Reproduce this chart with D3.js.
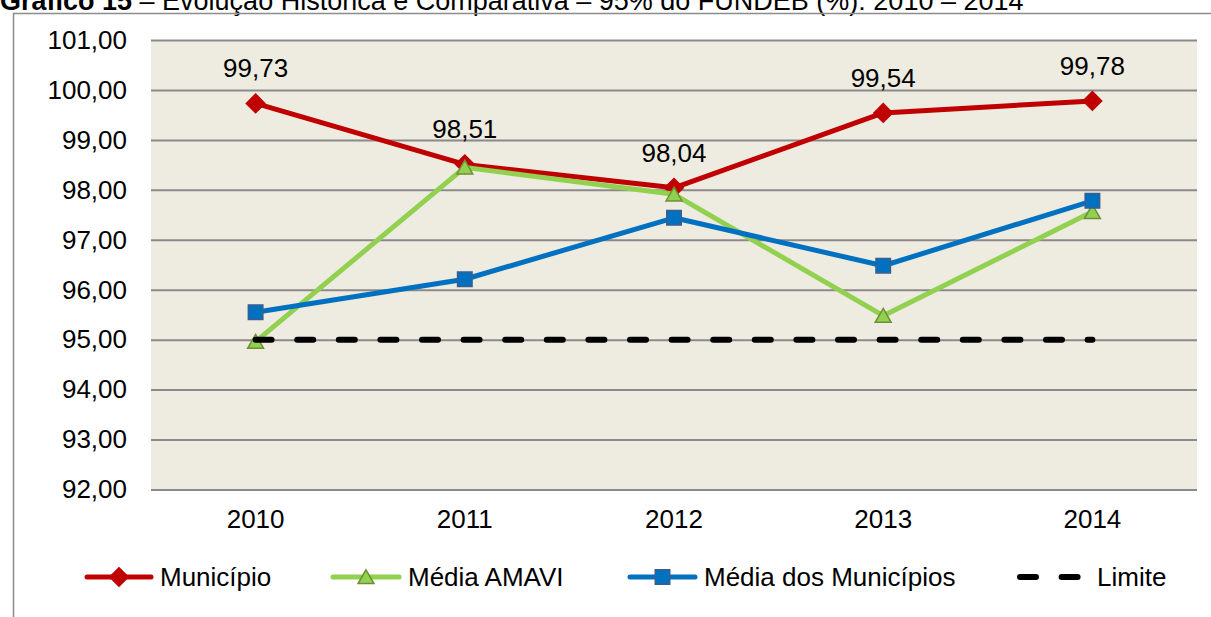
<!DOCTYPE html>
<html>
<head>
<meta charset="utf-8">
<script src="https://cdn.jsdelivr.net/npm/d3@7"></script>
<style>
  body { margin: 0; background: #fff; }
  svg { display: block; font-family: "Liberation Sans", Arial, sans-serif; }
</style>
</head>
<body>
<svg id="chart" width="1211" height="617"></svg>
<script>
// data
var years = ["2010", "2011", "2012", "2013", "2014"];
var municipio = [99.73, 98.51, 98.04, 99.54, 99.78];
var mediaAmavi = [94.96, 98.45, 97.91, 95.48, 97.56];
var mediaMunicipios = [95.55, 96.21, 97.44, 96.48, 97.78];
var limite = [95, 95, 95, 95, 95];
var yTicks = [92, 93, 94, 95, 96, 97, 98, 99, 100, 101];

var svg = d3.select("#chart");
var plot = {left: 151, right: 1197, top: 40, bottom: 489.5};

var ptBR = d3.formatLocale({decimal: ",", thousands: ".", grouping: [3], currency: ["R$", ""]});
var fmt = ptBR.format(".2f");

var x = d3.scaleBand().domain(years).range([plot.left, plot.right]);
var y = d3.scaleLinear().domain([92, 101]).range([plot.bottom, plot.top]);
function cx(d, i) { return x(years[i]) + x.bandwidth() / 2; }

// title (top is cut off in the source picture too)
var title = svg.append("text").attr("x", 0).attr("y", 10).attr("font-size", "27px").attr("fill", "#000");
title.append("tspan").attr("font-weight", "bold").text("Gráfico 15");
title.append("tspan").text(" – Evolução Histórica e Comparativa – 95% do FUNDEB (%): 2010 – 2014");

// outer frame
svg.append("rect")
  .attr("x", 13.5).attr("y", 13.5)
  .attr("width", 1300).attr("height", 700)
  .attr("fill", "none").attr("stroke", "#8c8c8c").attr("stroke-width", 1.5);

// plot background
svg.append("rect")
  .attr("x", plot.left).attr("y", plot.top)
  .attr("width", plot.right - plot.left).attr("height", plot.bottom - plot.top)
  .attr("fill", "#eeebe0");

// gridlines + y labels
var yAxis = svg.append("g")
  .attr("transform", "translate(" + plot.left + ",0)")
  .call(d3.axisLeft(y).tickValues(yTicks).tickFormat(fmt)
    .tickSize(-(plot.right - plot.left)).tickPadding(24));
yAxis.select(".domain").remove();
yAxis.selectAll(".tick line").attr("stroke", "#8a8a8a").attr("stroke-width", 2);
yAxis.selectAll(".tick text")
  .attr("font-size", "26px").attr("fill", "#000")
  .attr("font-family", "Liberation Sans, Arial, sans-serif");

// x labels
var xAxis = svg.append("g")
  .attr("transform", "translate(0," + plot.bottom + ")")
  .call(d3.axisBottom(x).tickSize(0).tickPadding(20));
xAxis.select(".domain").remove();
xAxis.selectAll(".tick text")
  .attr("font-size", "26px").attr("fill", "#000")
  .attr("font-family", "Liberation Sans, Arial, sans-serif");

var line = d3.line().x(cx).y(function(d) { return y(d); });

// series
var series = [
  {name: "Município", values: municipio, color: "#c00000", marker: "diamond", mfill: "#c00000", mstroke: "#c00000"},
  {name: "Média AMAVI", values: mediaAmavi, color: "#92d050", marker: "triangle", mfill: "#92d050", mstroke: "#6f8f35"},
  {name: "Média dos Municípios", values: mediaMunicipios, color: "#0070c0", marker: "square", mfill: "#0070c0", mstroke: "#3a5f8f"}
];

var symbols = {
  diamond: d3.symbol().type(d3.symbolDiamond2).size(220),
  triangle: d3.symbol().type(d3.symbolTriangle).size(110),
  square: d3.symbol().type(d3.symbolSquare).size(210)
};

series.forEach(function(s) {
  svg.append("path")
    .datum(s.values)
    .attr("d", line)
    .attr("fill", "none")
    .attr("stroke", s.color)
    .attr("stroke-width", 5)
    .attr("stroke-linejoin", "round");

  svg.selectAll(null)
    .data(s.values)
    .enter()
    .append("path")
    .attr("d", symbols[s.marker])
    .attr("transform", function(d, i) {
      var dy = s.marker == "triangle" ? 2 : 0;
      return "translate(" + cx(d, i) + "," + (y(d) + dy) + ")";
    })
    .attr("fill", s.mfill)
    .attr("stroke", s.mstroke)
    .attr("stroke-width", 1.5);
});

// limite
svg.append("path")
  .datum(limite)
  .attr("d", line)
  .attr("fill", "none")
  .attr("stroke", "#000")
  .attr("stroke-width", 6)
  .attr("stroke-linecap", "round")
  .attr("stroke-dasharray", "16,25.6");

// data labels for Município
svg.selectAll(".lbl")
  .data(municipio)
  .enter()
  .append("text")
  .attr("class", "lbl")
  .attr("x", cx)
  .attr("y", function(d) { return y(d) - 26; })
  .attr("text-anchor", "middle")
  .attr("font-size", "26px")
  .attr("fill", "#000")
  .text(fmt);

// legend
var legendY = 577;
var legendItems = [
  {name: "Município", x1: 84, x2: 154, tx: 160, color: "#c00000", marker: "diamond", mfill: "#c00000", mstroke: "#c00000", dash: null},
  {name: "Média AMAVI", x1: 330, x2: 402, tx: 408, color: "#92d050", marker: "triangle", mfill: "#92d050", mstroke: "#6f8f35", dash: null},
  {name: "Média dos Municípios", x1: 627, x2: 698, tx: 704, color: "#0070c0", marker: "square", mfill: "#0070c0", mstroke: "#3a5f8f", dash: null},
  {name: "Limite", x1: 1017, x2: 1083, tx: 1097, color: "#000", marker: null, dash: "16,25.6"}
];

legendItems.forEach(function(d) {
  var g = svg.append("g");
  g.append("line")
    .attr("x1", d.x1 + 3).attr("x2", d.x2 - 3)
    .attr("y1", legendY).attr("y2", legendY)
    .attr("stroke", d.color)
    .attr("stroke-width", d.dash ? 6 : 5)
    .attr("stroke-linecap", "round")
    .attr("stroke-dasharray", d.dash);
  if (d.marker) {
    g.append("path")
      .attr("d", symbols[d.marker])
      .attr("transform", "translate(" + ((d.x1 + d.x2) / 2) + "," + (legendY + (d.marker == "triangle" ? 2 : 0)) + ")")
      .attr("fill", d.mfill)
      .attr("stroke", d.mstroke)
      .attr("stroke-width", 1.5);
  }
  g.append("text")
    .attr("x", d.tx)
    .attr("y", legendY + 9)
    .attr("font-size", "26px")
    .attr("fill", "#000")
    .text(d.name);
});
</script>
</body>
</html>
